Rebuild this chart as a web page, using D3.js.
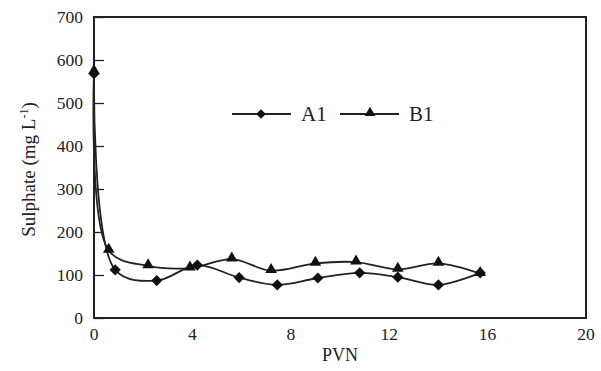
<!DOCTYPE html>
<html><head><meta charset="utf-8">
<script src="https://cdn.jsdelivr.net/npm/d3@7"></script>
<style>body{margin:0;background:#fff}svg{display:block}text{font-family:"Liberation Serif","Times New Roman",serif;fill:#222}</style>
</head><body><svg id="c" width="601" height="371"></svg>
<script>
const xA1 = [0, 0.86, 2.55, 4.2, 5.9, 7.45, 9.1, 10.8, 12.35, 14.0, 15.7];
const yA1 = [568, 112, 87, 123, 94, 77, 93, 105, 95, 77, 105];
const xB1 = [0, 0.6, 2.2, 3.9, 5.6, 7.2, 9.0, 10.65, 12.35, 14.0, 15.7];
const yB1 = [573, 157, 121, 116, 137, 110, 127, 130, 113, 127, 103];
const xTicks = [0, 4, 8, 12, 16, 20];
const yTicks = [0, 100, 200, 300, 400, 500, 600, 700];
const seriesNames = ["A1", "B1"];

const svg = d3.select("#c");
const L = 94, R = 586, T = 17, B = 318;
const x = d3.scaleLinear().domain([0, 20]).range([L, R]);
const y = d3.scaleLinear().domain([0, 700]).range([B, T]);

svg.append("rect").attr("x", L).attr("y", T).attr("width", R - L).attr("height", B - T)
  .attr("fill", "none").attr("stroke", "#222").attr("stroke-width", 2);

const yAxis = d3.axisRight(y).tickValues(yTicks).tickSize(10).tickFormat("");
const ga = svg.append("g").attr("transform", `translate(${L},0)`).call(yAxis);
ga.select(".domain").remove();
ga.selectAll("line").attr("stroke", "#222").attr("stroke-width", 1.3);
svg.append("g").selectAll("text").data(yTicks).join("text")
  .attr("x", L - 11).attr("y", d => y(d) + 6).attr("text-anchor", "end")
  .attr("font-size", 17.5).text(d => d);
svg.append("g").selectAll("text").data(xTicks).join("text")
  .attr("x", d => x(d)).attr("y", B + 22).attr("text-anchor", "middle")
  .attr("font-size", 17.5).text(d => d);

svg.append("text").attr("x", x(10)).attr("y", 361).attr("text-anchor", "middle")
  .attr("font-size", 18).text("PVN");
const yt = svg.append("text").attr("transform", `translate(35,${(T + B) / 2 + 2}) rotate(-90)`)
  .attr("text-anchor", "middle").attr("font-size", 19);
yt.append("tspan").text("Sulphate (mg L");
yt.append("tspan").attr("dy", -7).attr("font-size", 12).text("-1");
yt.append("tspan").attr("dy", 7).text(")");

const line = d3.line().x(d => x(d[0])).y(d => y(d[1])).curve(d3.curveCatmullRom.alpha(0.5));
const A = xA1.map((v, i) => [v, yA1[i]]);
const Bd = xB1.map((v, i) => [v, yB1[i]]);
[A, Bd].forEach(data => svg.append("path").datum(data).attr("d", line)
  .attr("fill", "none").attr("stroke", "#222").attr("stroke-width", 1.8));

const diamond = d3.symbol().type(d3.symbolDiamond2).size(80);
const tri = d3.symbol().type(d3.symbolTriangle).size(58);
svg.append("g").selectAll("path").data(A).join("path")
  .attr("transform", d => `translate(${x(d[0])},${y(d[1])})`).attr("d", diamond).attr("fill", "#111");
svg.append("g").selectAll("path").data(Bd).join("path")
  .attr("transform", d => `translate(${x(d[0])},${y(d[1]) - 1})`).attr("d", tri).attr("fill", "#111");

const lg = svg.append("g");
const ly = 114;
lg.append("line").attr("x1", 232).attr("x2", 291).attr("y1", ly).attr("y2", ly).attr("stroke", "#222").attr("stroke-width", 1.8);
lg.append("path").attr("transform", `translate(261,${ly})`).attr("d", d3.symbol().type(d3.symbolDiamond2).size(60)).attr("fill", "#111");
lg.append("text").attr("x", 301).attr("y", ly + 7).attr("font-size", 21).text(seriesNames[0]);
lg.append("line").attr("x1", 340).attr("x2", 399).attr("y1", ly).attr("y2", ly).attr("stroke", "#222").attr("stroke-width", 1.8);
lg.append("path").attr("transform", `translate(370,${ly - 1})`).attr("d", d3.symbol().type(d3.symbolTriangle).size(50)).attr("fill", "#111");
lg.append("text").attr("x", 409).attr("y", ly + 7).attr("font-size", 21).text(seriesNames[1]);
</script></body></html>
